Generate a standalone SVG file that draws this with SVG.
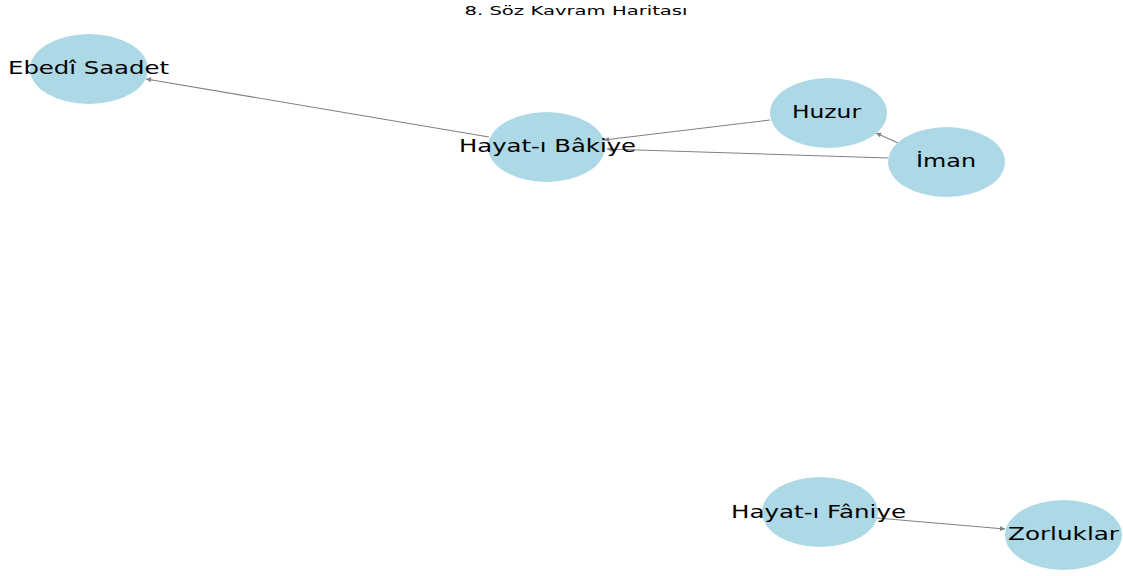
<svg xmlns="http://www.w3.org/2000/svg" width="1123" height="576" viewBox="0 0 1123 576">
<style>
.node ellipse{fill:#ADD8E6;}
.node text{font-family:"DejaVu Sans",sans-serif;font-size:17px;fill:#000;text-anchor:middle;}
.edge{stroke:#808080;stroke-width:1.1;fill:none;marker-end:url(#ah);}
.title{font-family:"DejaVu Sans",sans-serif;font-size:12px;fill:#000;text-anchor:middle;}
</style>
<defs>
<marker id="ah" viewBox="0 0 10 10" refX="10" refY="5" markerWidth="7" markerHeight="5" orient="auto" markerUnits="userSpaceOnUse">
<path d="M0,0 L10,5 L0,10 z" fill="#808080"/>
</marker>
</defs>
<rect width="1123" height="576" fill="#fff"/>
<text class="title" x="576" y="15" textLength="223" lengthAdjust="spacingAndGlyphs">8. Söz Kavram Haritası</text>
<g id="connectors">
<line class="edge" x1="489" y1="137" x2="146" y2="79"/>
<line class="edge" x1="770" y1="120" x2="604" y2="140"/>
<line class="edge" x1="888" y1="158" x2="607" y2="149"/>
<line class="edge" x1="898" y1="143" x2="876" y2="133"/>
<line class="edge" x1="877" y1="518" x2="1005" y2="529"/>
</g>
<g id="node-ebedi-saadet" class="node">
<ellipse cx="89" cy="69" rx="59" ry="35"/>
<text x="88.5" y="74" textLength="161" lengthAdjust="spacingAndGlyphs">Ebedî Saadet</text>
</g>
<g id="node-hayat-i-bakiye" class="node">
<ellipse cx="546.5" cy="147" rx="58.5" ry="35"/>
<text x="547.5" y="152" textLength="177" lengthAdjust="spacingAndGlyphs">Hayat-ı Bâkiye</text>
</g>
<g id="node-huzur" class="node">
<ellipse cx="828.5" cy="113" rx="58.5" ry="35"/>
<text x="826.5" y="118" textLength="69" lengthAdjust="spacingAndGlyphs">Huzur</text>
</g>
<g id="node-iman" class="node">
<ellipse cx="946.5" cy="162" rx="58.5" ry="35"/>
<text x="946" y="167" textLength="60" lengthAdjust="spacingAndGlyphs">İman</text>
</g>
<g id="node-hayat-i-faniye" class="node">
<ellipse cx="820" cy="512" rx="58" ry="35"/>
<text x="818.5" y="518" textLength="175" lengthAdjust="spacingAndGlyphs">Hayat-ı Fâniye</text>
</g>
<g id="node-zorluklar" class="node">
<ellipse cx="1063.5" cy="535" rx="58.5" ry="35"/>
<text x="1063.5" y="540" textLength="111" lengthAdjust="spacingAndGlyphs">Zorluklar</text>
</g>
</svg>
